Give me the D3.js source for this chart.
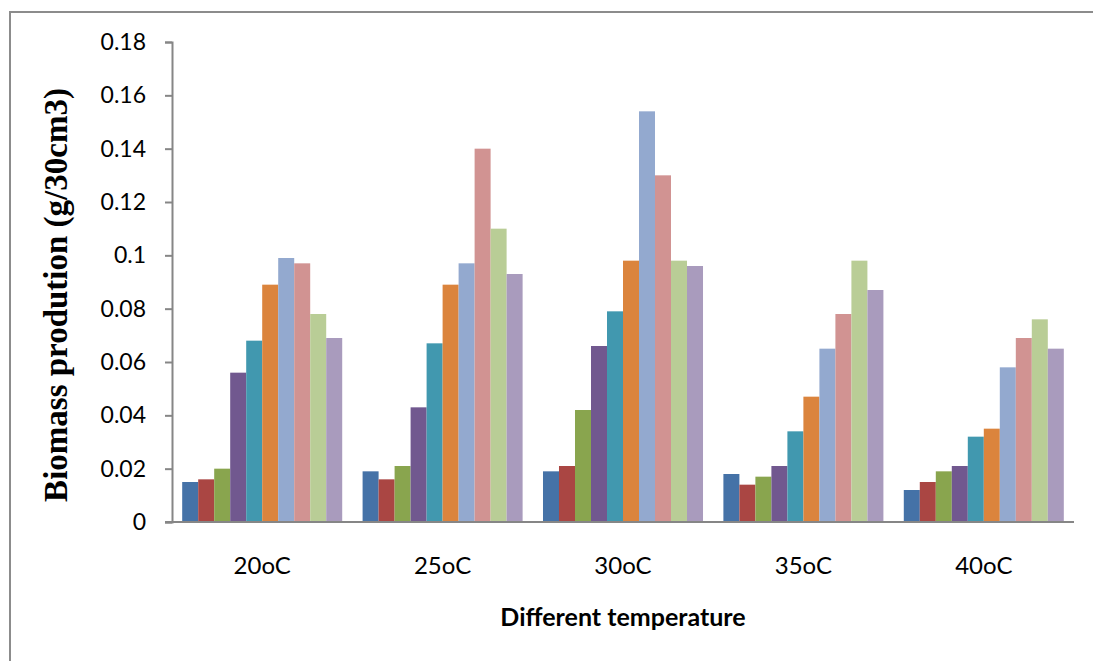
<!DOCTYPE html>
<html>
<head>
<meta charset="utf-8">
<script src="https://cdn.jsdelivr.net/npm/d3@7"></script>
<style>
  body { margin: 0; background: #fff; }
  svg { display: block; }
</style>
</head>
<body>
<div id="chart"></div>
<script>
// chart data
const categories = ["20oC", "25oC", "30oC", "35oC", "40oC"];
const seriesNames = ["s1", "s2", "s3", "s4", "s5", "s6", "s7", "s8", "s9", "s10"];
const s1 = [0.015, 0.019, 0.019, 0.018, 0.012];
const s2 = [0.016, 0.016, 0.021, 0.014, 0.015];
const s3 = [0.020, 0.021, 0.042, 0.017, 0.019];
const s4 = [0.056, 0.043, 0.066, 0.021, 0.021];
const s5 = [0.068, 0.067, 0.079, 0.034, 0.032];
const s6 = [0.089, 0.089, 0.098, 0.047, 0.035];
const s7 = [0.099, 0.097, 0.154, 0.065, 0.058];
const s8 = [0.097, 0.140, 0.130, 0.078, 0.069];
const s9 = [0.078, 0.110, 0.098, 0.098, 0.076];
const s10 = [0.069, 0.093, 0.096, 0.087, 0.065];
const yTicks = [0, 0.02, 0.04, 0.06, 0.08, 0.1, 0.12, 0.14, 0.16, 0.18];

const SERIES = [s1, s2, s3, s4, s5, s6, s7, s8, s9, s10];
const COLORS = ["#4572A7", "#AA4643", "#89A54E", "#71588F", "#4198AF",
                "#DB843D", "#93A9CF", "#D19392", "#B9CD96", "#A99BBD"];

// frame
const FRAME_WIDTH = 1093;
const FRAME_HEIGHT = 661;
const MARGINS = {left: 172, right: 19, top: 42, bottom: 139};
const VIS_WIDTH = FRAME_WIDTH - MARGINS.left - MARGINS.right;
const VIS_HEIGHT = FRAME_HEIGHT - MARGINS.top - MARGINS.bottom;
const SANS = "Lato, 'Open Sans', sans-serif";

const svg = d3.select("#chart")
  .append("svg")
  .attr("width", FRAME_WIDTH)
  .attr("height", FRAME_HEIGHT);

// outer chart border (runs off the right and bottom)
svg.append("rect")
  .attr("x", 10)
  .attr("y", 12)
  .attr("width", FRAME_WIDTH + 20)
  .attr("height", FRAME_HEIGHT + 20)
  .attr("fill", "none")
  .attr("stroke", "#8c8c8c")
  .attr("stroke-width", 2);

const plot = svg.append("g")
  .attr("transform", "translate(" + MARGINS.left + "," + MARGINS.top + ")");

// scales
const xScale = d3.scaleBand()
  .domain(categories)
  .range([0, VIS_WIDTH])
  .paddingInner(0.113)
  .paddingOuter(0.0565);

const xInner = d3.scaleBand()
  .domain(d3.range(SERIES.length))
  .range([0, xScale.bandwidth()]);

const yScale = d3.scaleLinear()
  .domain([0, 0.18])
  .range([VIS_HEIGHT, 0]);

// bars
const rows = [];
categories.forEach((c, ci) => {
  SERIES.forEach((s, si) => {
    rows.push({cat: c, idx: si, name: seriesNames[si], value: s[ci]});
  });
});

plot.selectAll(".bar")
  .data(rows)
  .enter()
  .append("rect")
  .attr("class", "bar")
  .attr("x", (d) => xScale(d.cat) + xInner(d.idx))
  .attr("y", (d) => yScale(d.value))
  .attr("width", xInner.bandwidth())
  .attr("height", (d) => VIS_HEIGHT - yScale(d.value))
  .attr("fill", (d) => COLORS[d.idx]);

// y axis
const yAxis = plot.append("g")
  .call(d3.axisLeft(yScale)
    .tickValues(yTicks)
    .tickSize(7)
    .tickPadding(19)
    .tickFormat((d) => d3.format("")(+d.toFixed(2))));
yAxis.select(".domain").attr("stroke", "#868686").attr("stroke-width", 2);
yAxis.selectAll(".tick line").attr("stroke", "#868686").attr("stroke-width", 2);
yAxis.selectAll(".tick text")
  .attr("font-family", SANS)
  .attr("font-size", "23px")
  .attr("fill", "#000");

// x axis
const xAxis = plot.append("g")
  .attr("transform", "translate(0," + VIS_HEIGHT + ")")
  .call(d3.axisBottom(xScale).tickSize(0).tickSizeOuter(0));
xAxis.select(".domain").attr("stroke", "#868686").attr("stroke-width", 2)
  .attr("d", "M-7,0H" + VIS_WIDTH);
xAxis.selectAll(".tick text")
  .attr("font-family", SANS)
  .attr("font-size", "24px")
  .attr("fill", "#000")
  .attr("dy", null)
  .attr("y", 52);

// axis titles
svg.append("text")
  .attr("transform", "translate(67,295) rotate(-90)")
  .attr("text-anchor", "middle")
  .attr("font-family", "'Liberation Serif', 'Times New Roman', serif")
  .attr("font-weight", "bold")
  .attr("font-size", "33px")
  .text("Biomass prodution (g/30cm3)");

svg.append("text")
  .attr("x", MARGINS.left + VIS_WIDTH / 2)
  .attr("y", 626)
  .attr("text-anchor", "middle")
  .attr("font-family", SANS)
  .attr("font-weight", "bold")
  .attr("font-size", "25px")
  .text("Different temperature");
</script>
</body>
</html>
